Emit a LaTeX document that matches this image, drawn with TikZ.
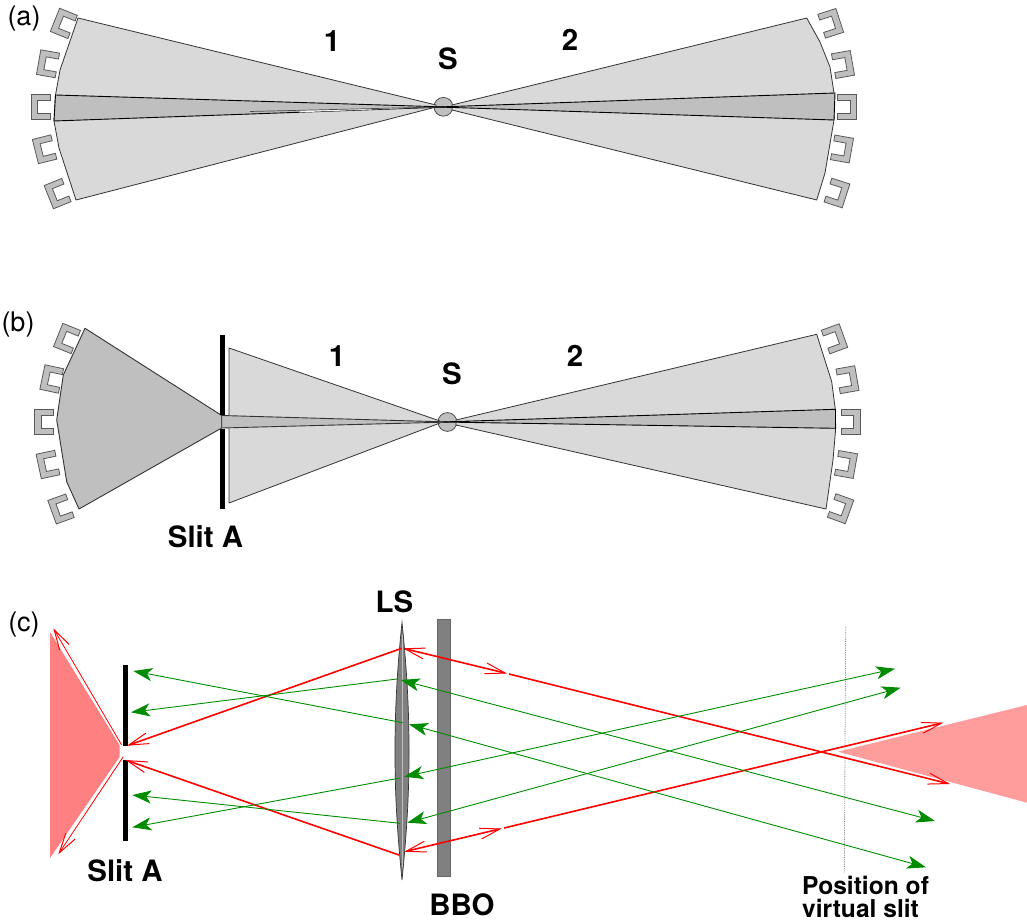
\documentclass[tikz,border=0pt]{standalone}
\usepackage{fontspec}
\setmainfont{TeX Gyre Heros}
\usetikzlibrary{arrows.meta}
\definecolor{fanlight}{HTML}{D9D9D9}
\definecolor{fandark}{HTML}{BFBFBF}
\definecolor{pinkleft}{HTML}{FF8080}
\definecolor{pinkright}{HTML}{FF9C9C}
\definecolor{raygreen}{HTML}{008C00}
\tikzset{
  fan/.style={draw=black!80,line width=0.8pt,line join=round,fill=fanlight},
  wedge/.style={draw=black,line width=0.9pt,line join=round,fill=fandark},
  detector/.style={draw=black!65,line width=0.8pt,fill=fandark},
  bar/.style={fill=black},
  redray/.style={red,line width=1.6pt},
  redthin/.style={red,line width=0.8pt},
  greenray/.style={raygreen,line width=0.9pt},
  redtip/.tip={Straight Barb[length=20pt,width=11pt,line width=1pt]},
  greentip/.tip={Stealth[length=19pt,width=13pt,inset=5pt]},
  bigtext/.style={font=\fontsize{29.4}{33}\selectfont\bfseries,inner sep=0pt},
  smalltext/.style={font=\fontsize{24.6}{24}\selectfont\bfseries,inner sep=0pt,anchor=base west},
  panel/.style={font=\fontsize{27}{30}\selectfont,inner sep=0pt},
}
\newcommand{\cupshape}{(9.5,-12.5) -- (-9.5,-12.5) -- (-9.5,12.5) -- (9.5,12.5) -- (9.5,6.5) -- (-3,6.5) -- (-3,-6.5) -- (9.5,-6.5) -- cycle}
\begin{document}
\begin{tikzpicture}[x=1pt,y=-1pt]
  \useasboundingbox (0,0) rectangle (1027,920);

  % panel a
  \node[panel] (labela) at (24,19) {(a)};
  \foreach \x/\y/\a in {63.8/23.4/-22,48/63.8/-10,40.5/107/0,44.6/149.3/14,57.6/193.6/22}
    \draw[detector,shift={(\x,\y)},rotate=\a] \cupshape;
  \foreach \x/\y/\a in {830.7/23.3/18,843/64.5/10,847/106.8/0,842/149/-10,837/193/-18}
    \draw[detector,shift={(\x,\y)},rotate=\a,xscale=-1] \cupshape;
  \draw[fill=fandark,draw=black!70,line width=0.8pt] (443.4,106.8) circle [radius=9.4];
  \draw[fan] (78,18) -- (60,70) -- (55.5,95) -- (54,121) -- (59,148) -- (76,200) -- (436,107) -- (436,105) -- cycle;
  \draw[fan] (806.7,18) -- (820,42) -- (830,67) -- (834,93) -- (834,120) -- (825,173) -- (816.7,200) -- (452,110) -- (452,105) -- cycle;
  \draw[wedge] (55.5,95) -- (447,107) -- (54,121) -- cycle;
  \draw[wedge] (835,93) -- (438,107) -- (834,120) -- cycle;
  \fill[white!85!fandark] (300,110.3) -- (436,107) -- (300,112.3) -- cycle;
  \draw[black!70,line width=0.7pt] (250,111.5) -- (438,107);
  \node[bigtext] (one) at (332,41) {1};
  \node[bigtext] (two) at (570,40) {2};
  \node[bigtext] (source) at (448,59) {S};

  % panel b
  \node[panel] (labelb) at (18,325) {(b)};
  \foreach \x/\y/\a in {67/338.5/-22,51.7/379/-12,44.3/422/0,48/464.5/12,61/509/20}
    \draw[detector,shift={(\x,\y)},rotate=\a] \cupshape;
  \foreach \x/\y/\a in {834.5/338.8/20,847.5/379.7/10,850.8/422/0,846/464.5/-10,840.6/508.7/-20}
    \draw[detector,shift={(\x,\y)},rotate=\a,xscale=-1] \cupshape;
  \draw[fill=fandark,draw=black!70,line width=0.8pt] (447.4,422) circle [radius=9.4];
  \draw[fan] (229,348) -- (229,503) -- (440,423) -- (440,421) -- cycle;
  \draw[fan] (816.7,334.3) -- (831.7,381.7) -- (835.3,409.3) -- (835.7,428.3) -- (833,460) -- (826,509) -- (456,425) -- (456,420) -- cycle;
  \draw[wedge,draw=black!80] (85,328.3) -- (63.3,375) -- (56.7,420) -- (66.7,481.7) -- (79,509) -- (221.7,428) -- (221.7,415.5) -- cycle;
  \draw[wedge,draw=black!80] (221.7,415.5) -- (450,422) -- (221.7,428) -- cycle;
  \draw[wedge] (835.5,409.3) -- (441,422) -- (835.5,428.3) -- cycle;
  \fill[bar] (220,335) rectangle (225,415);
  \fill[bar] (220,428.5) rectangle (225,509);
  \node[bigtext] (oneb) at (337,356) {1};
  \node[bigtext] (twob) at (575,356) {2};
  \node[bigtext] (sourceb) at (452,374) {S};
  \node[bigtext] (slitb) at (205.5,537) {Slit A};

  % panel c
  \node[panel] (labelc) at (24,625) {(c)};
  \fill[pinkleft] (50,632) -- (119.5,745) -- (119.5,757) -- (50,858) -- cycle;
  \fill[pinkright] (838,751.7) -- (1027,705) -- (1027,802.7) -- cycle;
  \fill[bar] (122.5,665) rectangle (127.5,745.7);
  \fill[bar] (122.5,760) rectangle (127.5,840.7);

  % lens and crystal
  \draw[fill=black!50,draw=black!80,line width=0.7pt] (402,622.5) .. controls (396,680) and (395,720) .. (395,751.5) .. controls (395,785) and (396,820) .. (402,880) .. controls (408,820) and (409,785) .. (409,751.5) .. controls (409,720) and (408,680) .. cycle;
  \draw[white!75!black,line width=1pt] (402,635) -- (402,867);
  \draw[fill=black!50,draw=black!60,line width=0.8pt] (437.3,619.3) rectangle (450.7,876.7);
  \draw[gray,densely dotted,line width=0.8pt] (845.7,626.7) -- (844.3,873.3);

  % red rays
  \draw[redray,-redtip] (401.7,648.3) -- (127,745.7);
  \draw[redray,-redtip] (399,855) -- (125.5,760);
  \draw[redray,redtip-redtip] (403,648.3) -- (507,673.5);
  \draw[redray,-redtip] (509,674) -- (950,784);
  \draw[redray,redtip-redtip] (404.3,851.7) -- (501.7,828.5);
  \draw[redray,-redtip] (504,828) -- (943.3,722.7);
  \draw[redthin,-redtip] (121.7,745) -- (53.3,628.3);
  \draw[redthin,-redtip] (123.3,756.7) -- (58.3,854.3);

  % green rays
  \draw[greenray,-greentip] (397,679) -- (131,712.3);
  \draw[greenray,greentip-greentip] (400.7,680) -- (935,821);
  \draw[greenray,-greentip] (402.7,722.7) -- (133.3,671);
  \draw[greenray,greentip-greentip] (409,724.3) -- (926,867.3);
  \draw[greenray,-greentip] (400,778) -- (132.3,827.3);
  \draw[greenray,greentip-greentip] (404.3,776.7) -- (895,668.7);
  \draw[greenray,-greentip] (400,823.3) -- (132.3,795);
  \draw[greenray,greentip-greentip] (407.3,822.7) -- (900.7,687.7);

  \node[bigtext] (lenslabel) at (394.5,602) {LS};
  \node[bigtext] (crystal) at (462,905) {BBO};
  \node[bigtext] (slitc) at (125,871) {Slit A};
  \node[smalltext] (virtualone) at (802,894) {Position of};
  \node[smalltext] (virtualtwo) at (802,917) {virtual slit};
\end{tikzpicture}
\end{document}
